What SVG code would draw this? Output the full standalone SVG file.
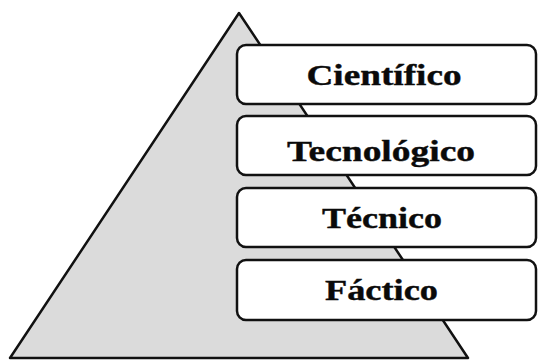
<svg xmlns="http://www.w3.org/2000/svg" width="538" height="361" viewBox="0 0 538 361">
  <style>
    .box { fill: #ffffff; stroke: #111111; stroke-width: 2.5; }
    .lbl { font-family: "Liberation Serif", "Times New Roman", serif; font-weight: bold; font-size: 30px; fill: #0a0a0a; stroke: #0a0a0a; stroke-width: 0.4; text-anchor: middle; }
  </style>
  <rect width="538" height="361" fill="#ffffff"/>
  <g id="pyramid">
    <polygon points="239,13 468,358 10,358" fill="#dbdbdb" stroke="#111111" stroke-width="2.5" stroke-linejoin="round"/>
  </g>
  <g id="connectors"></g>
  <g id="cientifico">
    <rect class="box" x="237" y="45" width="299" height="59" rx="9"/>
    <text class="lbl" x="384" y="85" textLength="155" lengthAdjust="spacingAndGlyphs">Científico</text>
  </g>
  <g id="tecnologico">
    <rect class="box" x="237" y="116" width="299" height="59" rx="9"/>
    <text class="lbl" x="381" y="161" textLength="188" lengthAdjust="spacingAndGlyphs">Tecnológico</text>
  </g>
  <g id="tecnico">
    <rect class="box" x="237" y="188" width="299" height="59" rx="9"/>
    <text class="lbl" x="382" y="228" textLength="120" lengthAdjust="spacingAndGlyphs">Técnico</text>
  </g>
  <g id="factico">
    <rect class="box" x="237" y="260" width="299" height="60" rx="9"/>
    <text class="lbl" x="381.5" y="300" textLength="113" lengthAdjust="spacingAndGlyphs">Fáctico</text>
  </g>
</svg>
